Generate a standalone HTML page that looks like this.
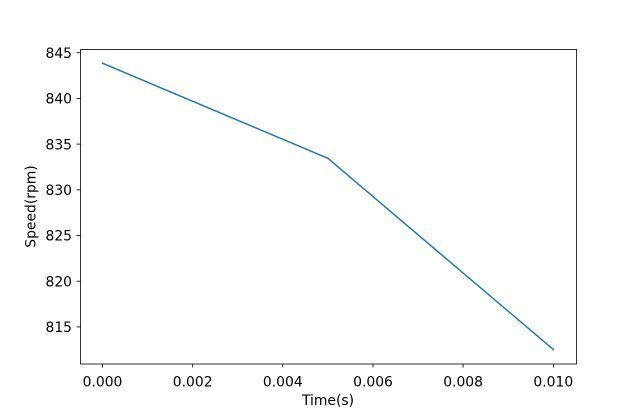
<!DOCTYPE html>
<html>
<head>
<meta charset="utf-8">
<style>
html,body{margin:0;padding:0;background:#fff;}
svg{display:block;}
text{font-family:"DejaVu Sans","Liberation Sans",sans-serif;font-size:13.9px;fill:#000;}
</style>
</head>
<body>
<svg width="640" height="409" viewBox="0 0 640 409" xmlns="http://www.w3.org/2000/svg">
<rect x="0" y="0" width="640" height="409" fill="#fff"/>
<!-- data line -->
<polyline points="102.5,63.2 327.9,158.3 553.3,349.5" fill="none" stroke="#1f77b4" stroke-width="1.5" stroke-linecap="square" stroke-linejoin="round"/>
<!-- axes frame -->
<rect x="80.5" y="49.5" width="496" height="314.5" fill="none" stroke="#000" stroke-width="0.8"/>
<!-- x ticks -->
<g stroke="#000" stroke-width="0.8">
<line x1="102.5" y1="364" x2="102.5" y2="367.5"/>
<line x1="192.7" y1="364" x2="192.7" y2="367.5"/>
<line x1="282.8" y1="364" x2="282.8" y2="367.5"/>
<line x1="373" y1="364" x2="373" y2="367.5"/>
<line x1="463.1" y1="364" x2="463.1" y2="367.5"/>
<line x1="553.3" y1="364" x2="553.3" y2="367.5"/>
</g>
<g text-anchor="middle">
<text x="102.5" y="386.5">0.000</text>
<text x="192.7" y="386.5">0.002</text>
<text x="282.8" y="386.5">0.004</text>
<text x="373" y="386.5">0.006</text>
<text x="463.1" y="386.5">0.008</text>
<text x="553.3" y="386.5">0.010</text>
</g>
<text x="328" y="405" text-anchor="middle">Time(s)</text>
<!-- y ticks -->
<g stroke="#000" stroke-width="0.8">
<line x1="76.5" y1="52.7" x2="80.5" y2="52.7"/>
<line x1="76.5" y1="98.4" x2="80.5" y2="98.4"/>
<line x1="76.5" y1="144.1" x2="80.5" y2="144.1"/>
<line x1="76.5" y1="189.8" x2="80.5" y2="189.8"/>
<line x1="76.5" y1="235.5" x2="80.5" y2="235.5"/>
<line x1="76.5" y1="281.2" x2="80.5" y2="281.2"/>
<line x1="76.5" y1="326.9" x2="80.5" y2="326.9"/>
</g>
<g text-anchor="end">
<text x="72" y="57.9">845</text>
<text x="72" y="103.6">840</text>
<text x="72" y="149.3">835</text>
<text x="72" y="195">830</text>
<text x="72" y="240.7">825</text>
<text x="72" y="286.4">820</text>
<text x="72" y="332.1">815</text>
</g>
<text transform="translate(35.5,206.5) rotate(-90)" text-anchor="middle">Speed(rpm)</text>
</svg>
</body>
</html>
